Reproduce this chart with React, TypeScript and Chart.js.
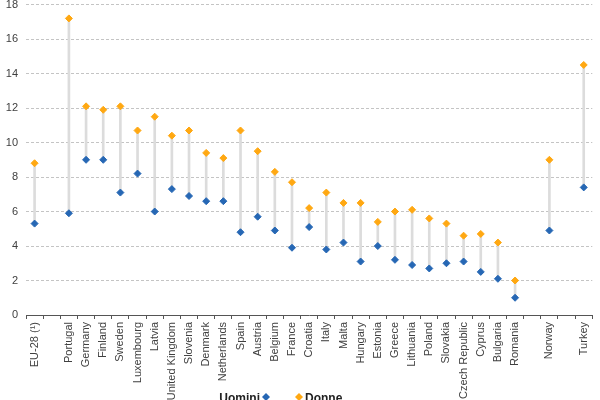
import React, { useEffect, useRef } from "react";
import { Chart, registerables } from "chart.js";

Chart.register(...registerables);

const categories: string[] = [
  "EU-28 (¹)", "", "Portugal", "Germany", "Finland", "Sweden", "Luxembourg", "Latvia",
  "United Kingdom", "Slovenia", "Denmark", "Netherlands", "Spain", "Austria", "Belgium",
  "France", "Croatia", "Italy", "Malta", "Hungary", "Estonia", "Greece", "Lithuania",
  "Poland", "Slovakia", "Czech Republic", "Cyprus", "Bulgaria", "Romania", "", "Norway", "", "Turkey",
];

const uomini: (number | null)[] = [
  5.3, null, 5.9, 9.0, 9.0, 7.1, 8.2, 6.0,
  7.3, 6.9, 6.6, 6.6, 4.8, 5.7, 4.9,
  3.9, 5.1, 3.8, 4.2, 3.1, 4.0, 3.2, 2.9,
  2.7, 3.0, 3.1, 2.5, 2.1, 1.0, null, 4.9, null, 7.4,
];

const donne: (number | null)[] = [
  8.8, null, 17.2, 12.1, 11.9, 12.1, 10.7, 11.5,
  10.4, 10.7, 9.4, 9.1, 10.7, 9.5, 8.3,
  7.7, 6.2, 7.1, 6.5, 6.5, 5.4, 6.0, 6.1,
  5.6, 5.3, 4.6, 4.7, 4.2, 2.0, null, 9.0, null, 14.5,
];

const seriesNames = ["Uomini", "Donne"];
const BLUE = "#2667b4";
const ORANGE = "#ffa812";

const legendPlugin = {
  id: "customLegend",
  afterDraw(chart: any) {
    const ctx = chart.ctx;
    const cx = chart.width / 2;
    const y = chart.height - 3;
    ctx.save();
    ctx.font = "bold 12px Arial, 'Liberation Sans', sans-serif";
    ctx.textBaseline = "middle";
    const diamond = (x: number, yy: number, color: string) => {
      ctx.beginPath();
      ctx.moveTo(x, yy - 4);
      ctx.lineTo(x + 4, yy);
      ctx.lineTo(x, yy + 4);
      ctx.lineTo(x - 4, yy);
      ctx.closePath();
      ctx.fillStyle = color;
      ctx.fill();
    };
    ctx.textAlign = "right";
    ctx.fillStyle = "#222";
    ctx.fillText(seriesNames[0], cx - 40, y + 2);
    diamond(cx - 34, y, BLUE);
    diamond(cx - 1, y, ORANGE);
    ctx.textAlign = "left";
    ctx.fillStyle = "#222";
    ctx.fillText(seriesNames[1], cx + 5, y + 2);
    ctx.restore();
  },
};

export default function App() {
  const ref = useRef<HTMLCanvasElement | null>(null);
  useEffect(() => {
    if (!ref.current) return;
    Chart.defaults.font.family = "Arial, 'Liberation Sans', sans-serif";
    const ranges = uomini.map((u, i) => {
      const d = donne[i];
      return u == null || d == null ? null : [Math.min(u, d), Math.max(u, d)];
    });
    const chart = new Chart(ref.current, {
      type: "bar",
      data: {
        labels: categories,
        datasets: [
          {
            type: "line",
            label: seriesNames[0],
            data: uomini,
            showLine: false,
            pointStyle: "rectRot",
            pointRadius: 3.5,
            pointBorderWidth: 1,
            backgroundColor: BLUE,
            borderColor: BLUE,
            order: 1,
          } as any,
          {
            type: "line",
            label: seriesNames[1],
            data: donne,
            showLine: false,
            pointStyle: "rectRot",
            pointRadius: 3.5,
            pointBorderWidth: 1,
            backgroundColor: ORANGE,
            borderColor: ORANGE,
            order: 1,
          } as any,
          {
            type: "bar",
            label: "range",
            data: ranges as any,
            backgroundColor: "#dcdcdc",
            barThickness: 2,
            order: 3,
          } as any,
        ],
      },
      options: {
        animation: false,
        responsive: false,
        maintainAspectRatio: false,
        layout: { padding: { top: 0, right: 2, bottom: 0, left: 0 } },
        plugins: {
          legend: { display: false },
          tooltip: { enabled: false },
        },
        scales: {
          x: {
            offset: true,
            grid: {
              display: true,
              offset: true,
              drawOnChartArea: false,
              drawTicks: true,
              tickLength: 4,
              color: "#555",
            },
            border: { display: true, color: "#555", width: 1 },
            ticks: {
              autoSkip: false,
              maxRotation: 90,
              minRotation: 90,
              color: "#404040",
              font: { size: 11 },
              padding: 3,
            },
            afterFit: (scale: any) => {
              scale.height = 85;
            },
          },
          y: {
            min: 0,
            max: 18,
            ticks: {
              stepSize: 2,
              color: "#404040",
              font: { size: 11 },
              padding: 8,
            },
            grid: {
              color: "#c4c4c4",
              drawTicks: false,
            },
            border: { display: false, dash: [3, 2] },
            afterFit: (scale: any) => {
              scale.width = 26;
            },
          },
        },
      },
      plugins: [legendPlugin],
    });
    return () => chart.destroy();
  }, []);
  return (
    <div style={{ position: "fixed", left: 0, top: -10, width: 600, height: 410 }}>
      <canvas ref={ref} width={600} height={410} style={{ width: 600, height: 410 }} />
    </div>
  );
}
